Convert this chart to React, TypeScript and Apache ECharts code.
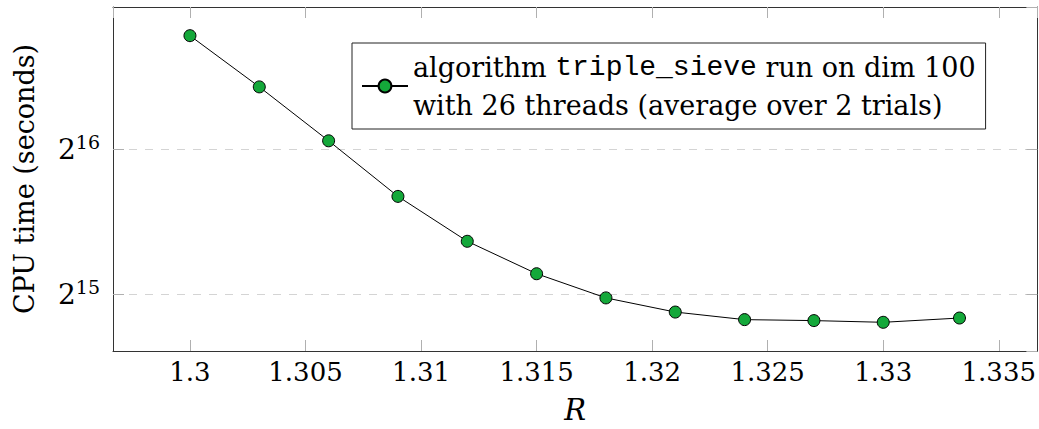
import React, { useEffect, useRef } from "react";
import * as echarts from "echarts";

const rValues = [1.3, 1.303, 1.306, 1.309, 1.312, 1.315, 1.318, 1.321, 1.324, 1.327, 1.33, 1.3333];
const cpuSeconds = [112690, 88220, 68180, 52270, 42176, 36117, 32178, 30071, 29003, 28868, 28633, 29226];
const xMin = 1.29667;
const xMax = 1.33667;
const yMin = 24964;
const yMax = 129241;
const seriesName = "triple_sieve";

const SERIF = "DejaVu Serif, serif";
const MONO = "Liberation Mono, DejaVu Sans Mono, monospace";
const GREEN = "#14a83a";

export default function App() {
  const ref = useRef<HTMLDivElement>(null);
  useEffect(() => {
    if (!ref.current) return;
    const chart = echarts.init(ref.current, null, { renderer: "svg" });
    const data = rValues.map((r, i) => [r, cpuSeconds[i]]);
    const tickStyle = { show: true, inside: true, length: 11, lineStyle: { color: "#b0b0b0", width: 1 } };
    const axisLine = { show: true, lineStyle: { color: "#333", width: 1 } };
    const yLabel = (v: number) => {
      const e = Math.log2(v);
      if (Math.abs(e - Math.round(e)) > 1e-6) return "";
      return `{b|2}{s|${Math.round(e)}}`;
    };
    chart.setOption({
      animation: false,
      backgroundColor: "#fff",
      textStyle: { fontFamily: SERIF },
      grid: { left: 113, top: 7, width: 927, height: 346, containLabel: false },
      legend: {
        show: true,
        left: 352,
        top: 43,
        orient: "vertical",
        padding: [5, 10, 5, 9],
        borderColor: "#222",
        borderWidth: 1,
        itemWidth: 46,
        itemHeight: 16,
        data: [seriesName],
        formatter: () =>
          "{n|algorithm }{m|triple_sieve}{n| run on dim 100}\n{n|with 26 threads (average over 2 trials)}",
        textStyle: {
          fontFamily: SERIF,
          fontSize: 27,
          lineHeight: 38,
          color: "#000",
          rich: {
            n: { fontFamily: SERIF, fontSize: 27, lineHeight: 38, color: "#000" },
            m: { fontFamily: MONO, fontSize: 28, lineHeight: 38, color: "#000" },
          },
        },
      },
      xAxis: [
        {
          type: "value",
          min: xMin,
          max: xMax,
          splitNumber: 8,
          position: "bottom",
          name: "R",
          nameLocation: "middle",
          nameGap: 44,
          nameTextStyle: { fontFamily: SERIF, fontStyle: "italic", fontSize: 29, color: "#000" },
          axisLine,
          axisTick: tickStyle,
          splitLine: { show: false },
          axisLabel: {
            showMinLabel: false,
            showMaxLabel: false,
            margin: 8,
            fontFamily: SERIF,
            fontSize: 26,
            color: "#000",
          },
        },
        {
          type: "value",
          min: xMin,
          max: xMax,
          splitNumber: 8,
          position: "top",
          axisLine,
          axisTick: tickStyle,
          splitLine: { show: false },
          axisLabel: { show: false },
        },
      ],
      yAxis: [
        {
          type: "log",
          logBase: 2,
          min: yMin,
          max: yMax,
          position: "left",
          name: "CPU time (seconds)",
          nameLocation: "middle",
          nameRotate: 90,
          nameGap: 75,
          nameTextStyle: { fontFamily: SERIF, fontSize: 27, color: "#000" },
          axisLine,
          axisTick: tickStyle,
          splitLine: { show: true, lineStyle: { color: "#d4d4d4", width: 1, type: [8, 8] } },
          axisLabel: {
            margin: 13,
            formatter: yLabel,
            showMinLabel: false,
            showMaxLabel: false,
            rich: {
              b: { fontFamily: SERIF, fontSize: 28, color: "#000" },
              s: { fontFamily: SERIF, fontSize: 19, color: "#000", padding: [0, 0, 14, 0] },
            },
          },
        },
        {
          type: "log",
          logBase: 2,
          min: yMin,
          max: yMax,
          position: "right",
          axisLine,
          axisTick: tickStyle,
          splitLine: { show: false },
          axisLabel: { show: false },
        },
      ],
      series: [
        {
          name: seriesName,
          type: "line",
          xAxisIndex: 0,
          yAxisIndex: 0,
          data,
          symbol: "circle",
          symbolSize: 12,
          itemStyle: { color: GREEN, borderColor: "#000", borderWidth: 1 },
          lineStyle: { color: "#000", width: 1 },
        },
      ],
    });
    return () => chart.dispose();
  }, []);
  return (
    <div style={{ position: "fixed", left: 0, top: 0, width: 1039, height: 429, overflow: "hidden", background: "#fff" }}>
      <div ref={ref} style={{ width: 1039, height: 429 }} />
    </div>
  );
}
